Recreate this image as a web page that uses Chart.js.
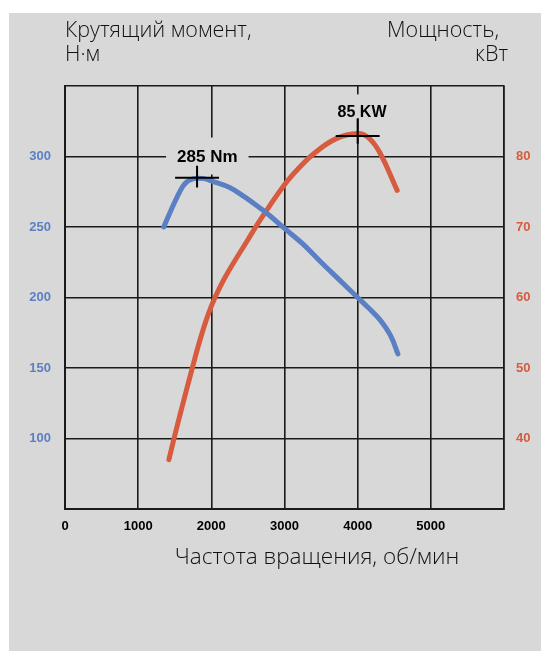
<!DOCTYPE html>
<html>
<head>
<meta charset="utf-8">
<script src="https://cdn.jsdelivr.net/npm/chart.js@4.4.1/dist/chart.umd.min.js"></script>
<style>
  body { margin: 0; background: #fff; }
  #panel { position: absolute; left: 9px; top: 13px; width: 532px; height: 638px; background: #d8d8d8; }
</style>
</head>
<body>
<div id="panel"><canvas id="myChart" width="532" height="638"></canvas></div>
<script>
// Engine speed, rpm (torque curve)
const rpmTorque = [1350, 1450, 1525, 1600, 1650, 1700, 1800, 1900, 2000, 2250, 2450, 2650, 2800, 3000, 3250, 3500, 3750, 4000, 4150, 4300, 4450, 4550];
const torqueNm = [250, 262, 270.5, 278, 281.3, 283.2, 284.5, 284.3, 282.7, 278, 271.5, 264, 258, 249, 238, 225, 212.5, 200, 192.5, 184.5, 173, 160];

// Engine speed, rpm (power curve)
const rpmPower = [1420, 1490, 1600, 1740, 1840, 1950, 2050, 2200, 2500, 2700, 3000, 3200, 3400, 3700, 4000, 4150, 4300, 4540];
const powerKw = [37, 40, 44.5, 50, 53.8, 57.4, 60, 63.1, 68.2, 71.5, 76, 78.4, 80.4, 82.5, 83.25, 82.65, 80.6, 75.2];

// Peak markers
const torquePeak = { rpm: 1805, value: 285, label: '285 Nm', labelRpm: 1945, labelValue: 300 };
const powerPeak = { rpm: 4000, value: 82.9, label: '85 KW', labelRpm: 4060, labelValue: 86.4 };

const BLUE = '#5b7fc4';
const RED = '#d65b3f';
const GREY = '#d8d8d8';

const toPoints = (xs, ys) => xs.map((x, i) => ({ x: x, y: ys[i] }));

// draws the axis titles, peak labels and crosshairs
const extras = {
    id: 'extras',
    beforeDatasetsDraw(chart) {
        const c = chart.ctx;
        const sx = chart.scales.x, sl = chart.scales.yT, sr = chart.scales.yP;
        c.save();
        c.font = 'bold 17px "Liberation Sans", Arial, sans-serif';
        c.textAlign = 'center';
        c.textBaseline = 'middle';
        // torque label with background box
        let x = sx.getPixelForValue(torquePeak.labelRpm), y = sl.getPixelForValue(torquePeak.labelValue);
        let w = c.measureText(torquePeak.label).width;
        c.fillStyle = GREY;
        c.fillRect(x - w / 2 - 11, y - 19, w + 22, 37);
        c.fillStyle = '#000';
        c.fillText(torquePeak.label, x, y + 1);
        // power label
        c.font = 'bold 16px "Liberation Sans", Arial, sans-serif';
        x = sx.getPixelForValue(powerPeak.labelRpm); y = sr.getPixelForValue(powerPeak.labelValue);
        w = c.measureText(powerPeak.label).width;
        c.fillStyle = GREY;
        c.fillRect(x - w / 2 - 6, y - 17, w + 12, 24);
        c.fillStyle = '#000';
        c.fillText(powerPeak.label, x, y + 1);
        c.restore();
    },
    afterDatasetsDraw(chart) {
        const c = chart.ctx;
        const sx = chart.scales.x, sl = chart.scales.yT, sr = chart.scales.yP;
        c.save();
        c.strokeStyle = '#000';
        c.lineWidth = 2;
        const cross = (scale, p, up, down) => {
            const x = sx.getPixelForValue(p.rpm), y = scale.getPixelForValue(p.value);
            c.beginPath();
            c.moveTo(sx.getPixelForValue(p.rpm - 300), y);
            c.lineTo(sx.getPixelForValue(p.rpm + 300), y);
            c.moveTo(x, scale.getPixelForValue(p.value + up));
            c.lineTo(x, scale.getPixelForValue(p.value - down));
            c.stroke();
        };
        cross(sl, torquePeak, 8.5, 7);
        cross(sr, powerPeak, 2.5, 1.1);
        c.restore();
    },
    afterDraw(chart) {
        const c = chart.ctx;
        c.save();
        c.fillStyle = '#111';
        c.font = '300 21.5px "Open Sans", "Noto Sans", sans-serif';
        c.textBaseline = 'middle';
        c.textAlign = 'left';
        c.fillText('Крутящий момент,', 56, 18);
        c.fillText('Н·м', 56, 42);
        c.textAlign = 'right';
        c.fillText('Мощность,', 490, 18);
        c.fillText('кВт', 499, 42);
        c.font = '300 22.5px "Open Sans", "Noto Sans", sans-serif';
        c.textAlign = 'center';
        c.fillText('Частота вращения, об/мин', 308, 545);
        c.restore();
    }
};

const data = {
    datasets: [
        {
            label: 'Крутящий момент',
            data: toPoints(rpmTorque, torqueNm),
            yAxisID: 'yT',
            borderColor: BLUE,
            borderWidth: 5,
            borderCapStyle: 'round',
            pointRadius: 0,
            tension: 0.4
        },
        {
            label: 'Мощность',
            data: toPoints(rpmPower, powerKw),
            yAxisID: 'yP',
            borderColor: RED,
            borderWidth: 5,
            borderCapStyle: 'round',
            pointRadius: 0,
            tension: 0.4
        }
    ]
};

const gridStyle = { color: '#1a1a1a', lineWidth: 1.6, drawTicks: false };
const tickFont = { family: '"Liberation Sans", Arial', size: 13, weight: 'bold' };

const config = {
    type: 'line',
    data: data,
    options: {
        responsive: false,
        animation: false,
        layout: { padding: { top: 73, left: 0, right: 0, bottom: 0 } },
        plugins: {
            legend: { display: false },
            tooltip: { enabled: false }
        },
        scales: {
            x: {
                type: 'linear',
                min: 0, max: 6000,
                ticks: {
                    stepSize: 1000,
                    padding: 10,
                    color: '#000',
                    font: tickFont,
                    callback: v => v <= 5000 ? v : ''
                },
                grid: gridStyle,
                border: { color: '#1a1a1a', width: 2 },
                afterFit: s => { s.height = 142; }
            },
            yT: {
                position: 'left',
                min: 50, max: 350,
                ticks: {
                    stepSize: 50,
                    padding: 14,
                    color: BLUE,
                    font: tickFont,
                    callback: v => (v >= 100 && v <= 300) ? v : ''
                },
                grid: gridStyle,
                border: { color: '#1a1a1a', width: 2 },
                afterFit: s => { s.width = 56; }
            },
            yP: {
                position: 'right',
                min: 30, max: 90,
                ticks: {
                    stepSize: 10,
                    padding: 12,
                    color: RED,
                    font: tickFont,
                    callback: v => (v >= 40 && v <= 80) ? v : ''
                },
                grid: { display: false, drawTicks: false },
                border: { color: '#1a1a1a', width: 1.6 },
                afterFit: s => { s.width = 37; }
            }
        }
    },
    plugins: [extras]
};

const ctx = document.getElementById('myChart').getContext('2d');
new Chart(ctx, config);
</script>
</body>
</html>
